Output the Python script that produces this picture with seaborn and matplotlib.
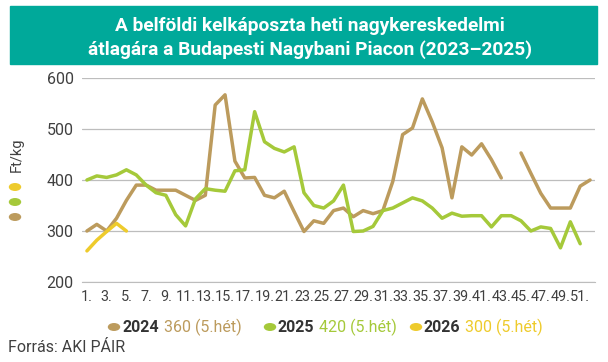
import numpy as np
import pandas as pd
import seaborn as sns
import matplotlib.pyplot as plt
from matplotlib.patches import Rectangle, Circle

weeks = list(range(1, 53))

# weekly prices, Ft/kg (NaN = no quotation)
prices_2024 = [300, 313, 300, 325, 360, 390, 390, 380, 380, 380,
               370, 360, 370, 547, 567, 437, 404, 405, 370, 365,
               378, 338, 299, 320, 315, 340, 345, 328, 340, 334,
               340, 397, 489, 502, 559, 514, 463, 365, 465, 449,
               471, 440, 404, np.nan, 453, 413, 374, 345, 345, 345,
               388, 400]
prices_2025 = [400, 408, 405, 410, 420, 410, 390, 375, 370, 332,
               310, 363, 383, 380, 378, 418, 420, 534, 475, 462,
               455, 465, 375, 350, 345, 359, 390, 299, 300, 309,
               340, 345, 355, 365, 359, 345, 325, 335, 329, 330,
               330, 308, 330, 330, 320, 300, 308, 305, 267, 318,
               275, np.nan]
prices_2026 = [261, 282, 299, 315, 300] + [np.nan] * 47

years = ["2024", "2025", "2026"]
week5_values = [360, 420, 300]
colors = {"2024": "#BC9B5D", "2025": "#A5C93A", "2026": "#EECB2C"}

title_lines = ["A belföldi kelkáposzta heti nagykereskedelmi",
               "átlagára a Budapesti Nagybani Piacon (2023–2025)"]

# long table, with a segment id so gaps stay gaps
rows = []
for year, series in zip(years, [prices_2024, prices_2025, prices_2026]):
    seg = 0
    for w, v in zip(weeks, series):
        if np.isnan(v):
            seg += 1
            continue
        rows.append({"week": w, "price": v, "year": year, "seg": f"{year}-{seg}"})
df = pd.DataFrame(rows)

sns.set_style("white")
plt.rcParams["font.family"] = ["Roboto", "DejaVu Sans"]
text_color = "#404040"

fig = plt.figure(figsize=(6.08, 3.62), dpi=100)
ax = fig.add_axes([82 / 608, 1 - 282 / 362, 513 / 608, 204 / 362])

sns.lineplot(data=df, x="week", y="price", hue="year", units="seg",
             estimator=None, palette=colors, linewidth=2.5, legend=False, ax=ax)

ax.set_xlim(0.5, 52.5)
ax.set_ylim(200, 600)
ax.set_yticks([200, 300, 400, 500, 600])
ax.grid(axis="y", color="#BDBDBD", linewidth=0.9)
ax.set_axisbelow(True)
for s in ["top", "right", "left"]:
    ax.spines[s].set_visible(False)
ax.spines["bottom"].set_color("#BDBDBD")

odd_weeks = [w for w in weeks if w % 2 == 1]
ax.set_xticks(odd_weeks)
ax.set_xticklabels([f"{w}." for w in odd_weeks])
ax.set_xticks(np.arange(0.5, 53, 1), minor=True)
ax.tick_params(axis="x", which="major", length=0, pad=6, labelsize=10.4, labelcolor=text_color)
ax.tick_params(axis="x", which="minor", length=4, color="#BDBDBD", direction="out")
ax.tick_params(axis="y", length=0, pad=6, labelsize=11.5, labelcolor=text_color)
ax.set_xlabel("")
ax.set_ylabel("")

# title banner
fig.patches.append(Rectangle((10 / 608, 1 - 64 / 362), 587 / 608, 58 / 362,
                             transform=fig.transFigure, color="#00A99A", zorder=0))
fig.text(0.51, 1 - 26 / 362, title_lines[0], ha="center", va="center",
         color="white", fontsize=13.8, fontweight="bold")
fig.text(0.51, 1 - 50 / 362, title_lines[1], ha="center", va="center",
         color="white", fontsize=13.8, fontweight="bold")

# unit label and the dots next to it
fig.text(17 / 608, 1 - 155 / 362, "Ft/kg", rotation=90, ha="center", va="center",
         fontsize=10.5, color=text_color)
for yy, year in zip([187, 202, 217], ["2026", "2025", "2024"]):
    fig.patches.append(Circle((15 / 608, 1 - yy / 362), 5.5 / 608,
                              transform=fig.transFigure, color=colors[year]))

# bottom legend: year in bold, then the week-5 value in the series colour
fig.canvas.draw()
renderer = fig.canvas.get_renderer()
legend_x = [114, 270, 416]
yc = 1 - 327 / 362
for x0, year, val in zip(legend_x, years, week5_values):
    fig.patches.append(Circle((x0 / 608, yc), 5.5 / 608,
                              transform=fig.transFigure, color=colors[year]))
    t = fig.text((x0 + 8) / 608, yc, year, ha="left", va="center",
                 fontsize=11.5, fontweight="bold", color="#333333")
    x1 = t.get_window_extent(renderer).x1
    fig.text((x1 + 5) / 608, yc, f"{val} (5.hét)", ha="left", va="center",
             fontsize=11.5, color=colors[year])

fig.text(8 / 608, 1 - 348 / 362, "Forrás: AKI PÁIR", ha="left", va="center",
         fontsize=11.5, color=text_color)

fig.savefig("out.png", dpi=100)
